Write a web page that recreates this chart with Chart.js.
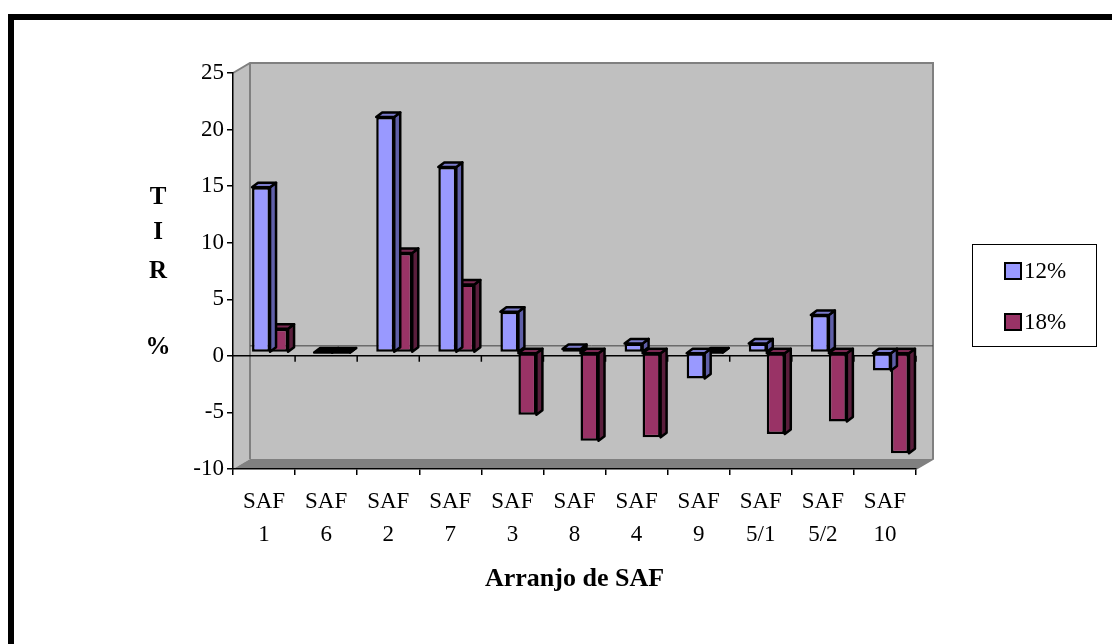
<!DOCTYPE html>
<html>
<head>
<meta charset="utf-8">
<title>TIR por arranjo de SAF</title>
<script src="https://cdn.jsdelivr.net/npm/chart.js@4.4.0/dist/chart.umd.min.js"></script>
<style>
  html, body { margin: 0; padding: 0; background: #ffffff; }
  #wrap { width: 1112px; height: 644px; position: relative; }
</style>
</head>
<body>
<div id="wrap"><canvas id="c" width="1112" height="644"></canvas></div>
<script>
// Categories (two-line labels) and TIR values (%) for each discount rate
const categories = [
  ["SAF", "1"], ["SAF", "6"], ["SAF", "2"], ["SAF", "7"], ["SAF", "3"], ["SAF", "8"],
  ["SAF", "4"], ["SAF", "9"], ["SAF", "5/1"], ["SAF", "5/2"], ["SAF", "10"]
];
const seriesNames = ["12%", "18%"];
const tir12 = [14.6, 0, 20.8, 16.4, 3.6, 0.3, 0.8, -2.3, 0.8, 3.3, -1.6];
const tir18 = [2.1, 0, 8.8, 6.0, -5.5, -7.8, -7.5, 0, -7.2, -6.1, -8.9];
const yTicks = [-10, -5, 0, 5, 10, 15, 20, 25];
const yTitle = ["T", "I", "R", "", "%"];
const xTitle = "Arranjo de SAF";

const SERIF = "'Liberation Serif', 'Times New Roman', serif";

// face colours for the pseudo-3D columns: front, side, top
const faces = [
  { front: "#9999FF", side: "#5F5FA8", top: "#7B7BCC" },
  { front: "#993366", side: "#5A1E3C", top: "#7A2952" }
];

// depth of the wall box and of the columns
const WALL_DX = 17, WALL_DY = 10;
const BAR_SHIFT_X = 6, BAR_SHIFT_Y = -3.4;
const BAR_DX = 6, BAR_DY = 4.5;

function poly(ctx, pts, fill, stroke, lw) {
  ctx.beginPath();
  ctx.moveTo(pts[0][0], pts[0][1]);
  for (let i = 1; i < pts.length; i++) ctx.lineTo(pts[i][0], pts[i][1]);
  ctx.closePath();
  if (fill) { ctx.fillStyle = fill; ctx.fill(); }
  if (stroke) { ctx.strokeStyle = stroke; ctx.lineWidth = lw || 1; ctx.stroke(); }
}

const boxPlugin = {
  id: "box3d",
  beforeDraw(chart) {
    const ctx = chart.ctx;
    const { left, right, top, bottom } = chart.chartArea;
    ctx.save();
    ctx.fillStyle = "#ffffff";
    ctx.fillRect(0, 0, chart.width, chart.height);

    // frame (top and left edges)
    ctx.fillStyle = "#000000";
    ctx.fillRect(8, 14, chart.width - 8, 6);
    ctx.fillRect(8, 14, 6, chart.height - 14);

    // back wall
    poly(ctx, [[left + WALL_DX, top - WALL_DY], [right + WALL_DX, top - WALL_DY],
               [right + WALL_DX, bottom - WALL_DY], [left + WALL_DX, bottom - WALL_DY]],
         "#C0C0C0", null);
    // side wall
    poly(ctx, [[left, top], [left + WALL_DX, top - WALL_DY],
               [left + WALL_DX, bottom - WALL_DY], [left, bottom]], "#C0C0C0", null);
    // floor
    poly(ctx, [[left, bottom], [left + WALL_DX, bottom - WALL_DY],
               [right + WALL_DX, bottom - WALL_DY], [right, bottom]], "#808080", null);

    // wall edges
    ctx.strokeStyle = "#808080";
    ctx.lineWidth = 2;
    ctx.beginPath();
    ctx.moveTo(left, top);
    ctx.lineTo(left + WALL_DX, top - WALL_DY);
    ctx.lineTo(right + WALL_DX, top - WALL_DY);
    ctx.lineTo(right + WALL_DX, bottom - WALL_DY);
    ctx.lineTo(right, bottom);
    ctx.moveTo(left + WALL_DX, top - WALL_DY);
    ctx.lineTo(left + WALL_DX, bottom - WALL_DY);
    ctx.stroke();
    ctx.restore();
  },
  beforeDatasetsDraw(chart) {
    const ctx = chart.ctx;
    const { left, right } = chart.chartArea;
    const y0 = chart.scales.y.getPixelForValue(0);
    const n = chart.data.labels.length;
    ctx.save();
    // zero line on the back wall
    ctx.strokeStyle = "#404040";
    ctx.lineWidth = 1;
    ctx.beginPath();
    ctx.moveTo(left + WALL_DX, y0 - WALL_DY);
    ctx.lineTo(right + WALL_DX, y0 - WALL_DY);
    ctx.stroke();
    // category axis crossing at zero, with its tick marks
    ctx.strokeStyle = "#000000";
    ctx.lineWidth = 1.5;
    ctx.beginPath();
    ctx.moveTo(left, y0);
    ctx.lineTo(right, y0);
    for (let i = 1; i <= n; i++) {
      const x = left + (right - left) * i / n;
      ctx.moveTo(x, y0);
      ctx.lineTo(x, y0 + 6);
    }
    ctx.stroke();
    ctx.restore();

    // columns sit slightly inside the box
    ctx.save();
    ctx.translate(BAR_SHIFT_X, BAR_SHIFT_Y);
  },
  afterDatasetDraw(chart, args) {
    const ctx = chart.ctx;
    const f = faces[args.index];
    ctx.save();
    ctx.lineJoin = "round";
    args.meta.data.forEach((el) => {
      const p = el.getProps(["x", "y", "base", "width"], true);
      const l = p.x - p.width / 2, r = p.x + p.width / 2;
      const t = Math.min(p.y, p.base), b = Math.max(p.y, p.base);
      const flat = (b - t) < 1;
      poly(ctx, [[r, t], [r + BAR_DX, t - BAR_DY], [r + BAR_DX, b - BAR_DY], [r, b]], f.side, "#000", 2.5);
      poly(ctx, [[l, t], [l + BAR_DX, t - BAR_DY], [r + BAR_DX, t - BAR_DY], [r, t]],
           flat ? "#000" : f.top, "#000", 2.5);
    });
    ctx.restore();
  },
  afterDatasetsDraw(chart) {
    chart.ctx.restore();
  },
  afterDraw(chart) {
    const ctx = chart.ctx;
    ctx.save();
    // vertical axis title, one letter per line
    ctx.fillStyle = "#000";
    ctx.font = "bold 25px " + SERIF;
    ctx.textAlign = "center";
    ctx.textBaseline = "middle";
    const ys = [198, 233, 272, 310, 348];
    yTitle.forEach((ch, i) => { if (ch) ctx.fillText(ch, 158, ys[i]); });

    // legend
    ctx.strokeStyle = "#000";
    ctx.lineWidth = 1;
    ctx.strokeRect(972.5, 244.5, 124, 102);
    ctx.font = "23px " + SERIF;
    ctx.textAlign = "left";
    const ly = [271, 322];
    chart.data.datasets.forEach((ds, i) => {
      ctx.fillStyle = ds.backgroundColor;
      ctx.fillRect(1005, ly[i] - 8, 16, 16);
      ctx.lineWidth = 2;
      ctx.strokeStyle = "#000";
      ctx.strokeRect(1005, ly[i] - 8, 16, 16);
      ctx.fillStyle = "#000";
      ctx.fillText(ds.label, 1024, ly[i] + 1);
    });
    ctx.restore();
  }
};

new Chart(document.getElementById("c"), {
  type: "bar",
  data: {
    labels: categories,
    datasets: [
      { label: seriesNames[0], data: tir12, backgroundColor: faces[0].front,
        borderColor: "#000", borderWidth: 2.5, borderSkipped: false, clip: false },
      { label: seriesNames[1], data: tir18, backgroundColor: faces[1].front,
        borderColor: "#000", borderWidth: 2.5, borderSkipped: false, clip: false }
    ]
  },
  options: {
    responsive: false,
    animation: false,
    events: [],
    layout: { padding: { top: 73, right: 196, left: 0, bottom: 0 } },
    datasets: { bar: { categoryPercentage: 0.58, barPercentage: 1.0 } },
    plugins: { legend: { display: false }, tooltip: { enabled: false }, title: { display: false } },
    scales: {
      x: {
        grid: { display: true, drawOnChartArea: false, drawTicks: true, tickLength: 6,
                color: "#000", lineWidth: 1.5, offset: true },
        border: { display: true, color: "#000", width: 1.5 },
        ticks: { color: "#000", font: { family: SERIF, size: 23, lineHeight: 1.43 },
                 padding: 11, maxRotation: 0, autoSkip: false },
        title: { display: true, text: xTitle, color: "#000",
                 font: { family: SERIF, size: 26, weight: "bold" },
                 padding: { top: 0, bottom: 49 } },
        afterFit(scale) { scale.height = 175; }
      },
      y: {
        min: -10, max: 25,
        afterBuildTicks(scale) { scale.ticks = yTicks.map((v) => ({ value: v })); },
        grid: { display: true, drawOnChartArea: false, drawTicks: true, tickLength: 6,
                color: "#000", lineWidth: 1.5 },
        border: { display: true, color: "#000", width: 1.5 },
        ticks: { color: "#000", font: { family: SERIF, size: 23 }, padding: 3 },
        afterFit(scale) { scale.width = 233; }
      }
    }
  },
  plugins: [boxPlugin]
});
</script>
</body>
</html>
